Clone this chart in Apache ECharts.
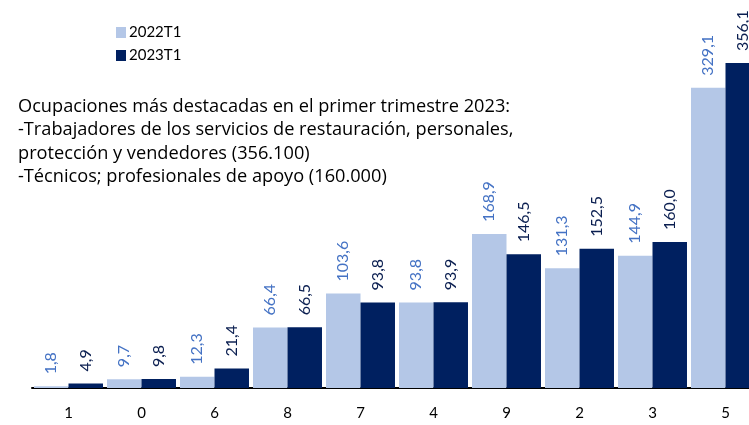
<!DOCTYPE html>
<html><head><meta charset="utf-8">
<script src="https://cdn.jsdelivr.net/npm/echarts@6/dist/echarts.min.js"></script>
<style>html,body{margin:0;padding:0;background:#fff;overflow:hidden;width:749px;height:425px}#c{width:770px;height:425px}</style>
</head><body><div id="c"></div>
<script>
var categories = ['1','0','6','8','7','4','9','2','3','5'];
var values2022 = [1.8, 9.7, 12.3, 66.4, 103.6, 93.8, 168.9, 131.3, 144.9, 329.1];
var values2023 = [4.9, 9.8, 21.4, 66.5, 93.8, 93.9, 146.5, 152.5, 160.0, 356.1];
var seriesNames = ['2022T1', '2023T1'];
var noteLines = [
  'Ocupaciones más destacadas en el primer trimestre 2023:',
  '-Trabajadores de los servicios de restauración, personales,',
  'protección y vendedores (356.100)',
  '-Técnicos; profesionales de apoyo (160.000)'
];

var FONT = 'Lato';
var fmt = function (p) { return p.value.toFixed(1).replace('.', ','); };
var chart = echarts.init(document.getElementById('c'));
chart.setOption({
  animation: false,
  textStyle: { fontFamily: FONT },
  grid: { left: 32, width: 730, top: 23, bottom: 37 },
  legend: {
    orient: 'vertical', left: 111, top: 20,
    itemWidth: 10, itemHeight: 11, itemGap: 8,
    icon: 'rect',
    textStyle: { fontFamily: FONT, fontSize: 15, color: '#000', padding: [0, 0, 0, -2] },
    data: seriesNames
  },
  xAxis: {
    type: 'category', data: categories,
    axisLine: { lineStyle: { color: '#000', width: 2 } },
    axisTick: { show: false },
    axisLabel: { margin: 18, fontFamily: FONT, fontSize: 15, color: '#000' }
  },
  yAxis: { type: 'value', min: 0, max: 400, show: false, splitLine: { show: false } },
  series: [
    {
      name: seriesNames[0], type: 'bar', data: values2022,
      barGap: '0%', barCategoryGap: '5.5%',
      itemStyle: { color: '#B4C7E7' },
      label: { show: true, position: 'top', rotate: 90, align: 'left', verticalAlign: 'middle',
        distance: 12, fontFamily: FONT, fontSize: 16, color: '#4472C4', formatter: fmt }
    },
    {
      name: seriesNames[1], type: 'bar', data: values2023,
      barGap: '0%', barCategoryGap: '5.5%',
      itemStyle: { color: '#002060' },
      label: { show: true, position: 'top', rotate: 90, align: 'left', verticalAlign: 'middle',
        distance: 12, fontFamily: FONT, fontSize: 16, color: '#0A1E50', formatter: fmt }
    }
  ],
  graphic: [{
    type: 'text', left: 18, top: 95,
    style: { text: noteLines.join('\n'), fontFamily: 'Open Sans', fontSize: 18.2, lineHeight: 23.5, fill: '#000' }
  }]
});
</script></body></html>
